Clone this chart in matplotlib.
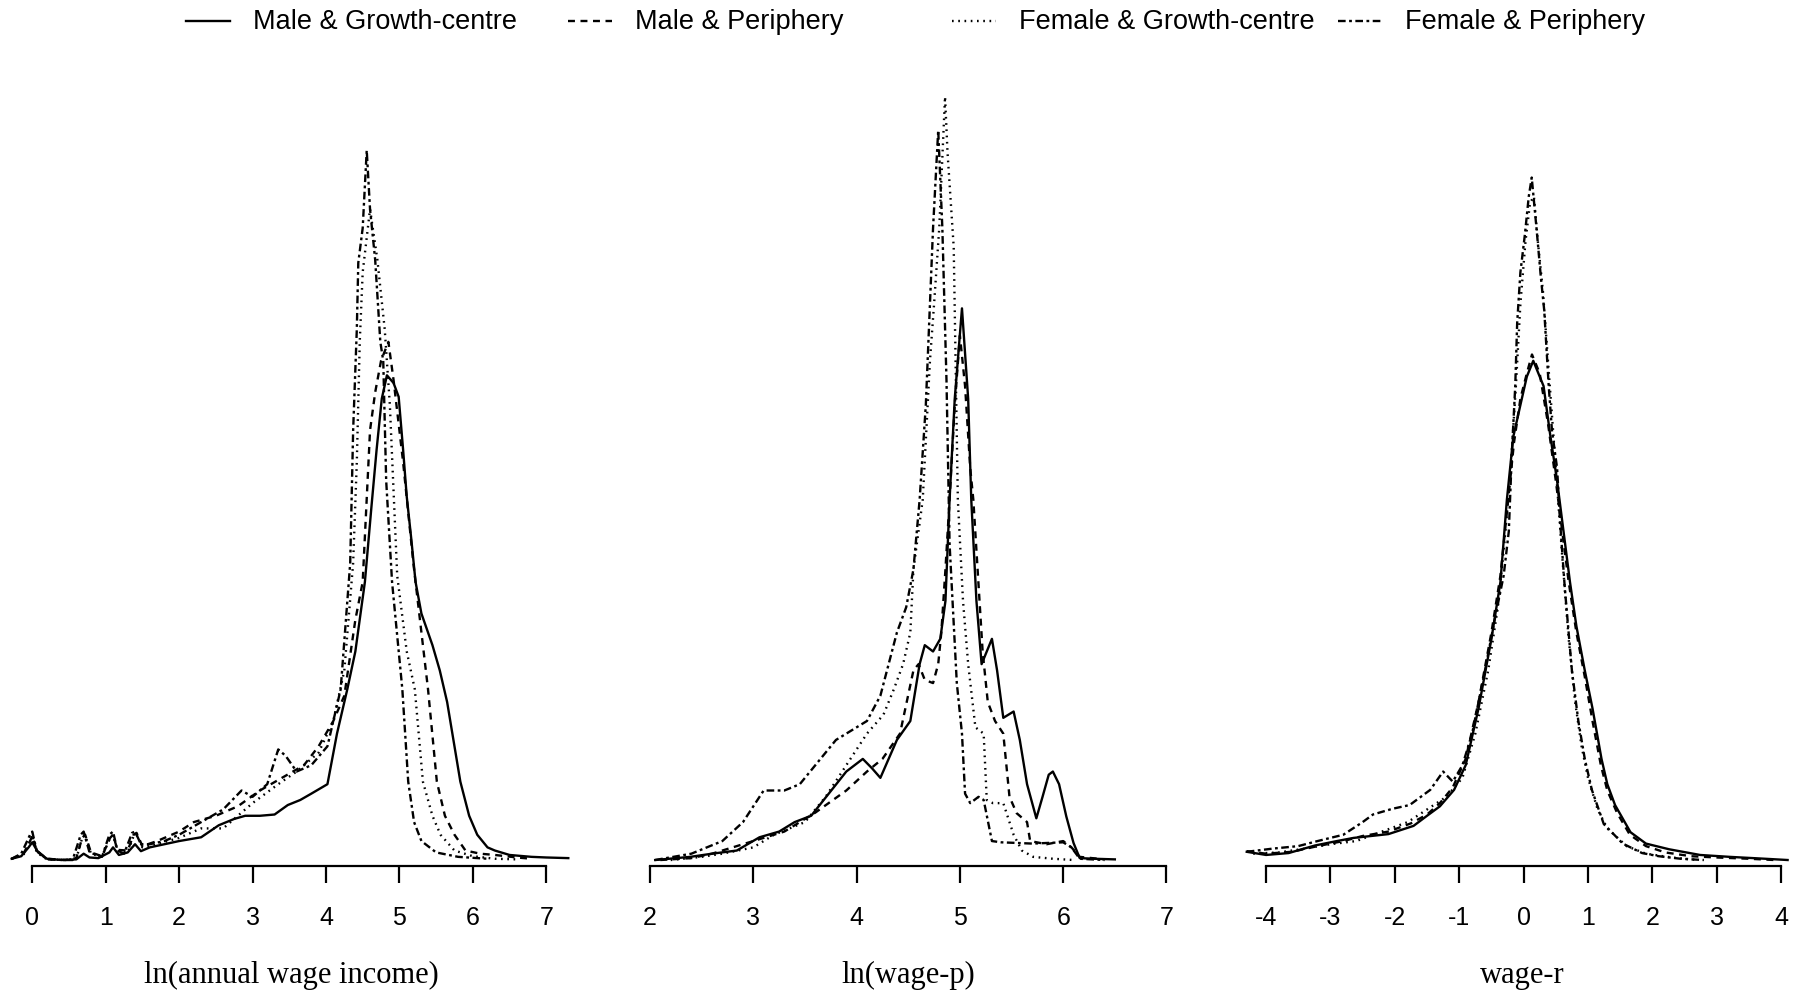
import matplotlib
matplotlib.use("Agg")
import matplotlib.pyplot as plt
from matplotlib.lines import Line2D

plt.rcParams['lines.scale_dashes'] = False

labels = ["Male & Growth-centre", "Male & Periphery", "Female & Growth-centre", "Female & Periphery"]
styles = ['-', (0, (5, 4)), (0, (1.2, 3.3)), (0, (5.5, 2.5, 2, 2.5))]

# ---- panel 1: ln(annual wage income)
inc_mgc_x = [-0.28, -0.15, -0.05, 0.0, 0.08, 0.2, 0.4, 0.6, 0.7, 0.78, 0.9, 1.05, 1.1, 1.18, 1.3, 1.4, 1.48, 1.6, 1.8, 2.0,
             2.3, 2.54, 2.75, 2.9, 3.1, 3.3, 3.48, 3.65, 3.8, 4.02, 4.15, 4.29, 4.4, 4.53, 4.62, 4.69, 4.76, 4.83, 4.92, 4.99,
             5.05, 5.1, 5.16, 5.22, 5.3, 5.45, 5.55, 5.65, 5.75, 5.83, 5.95, 6.06, 6.2, 6.3, 6.5, 6.8, 7.0, 7.3]
inc_mgc_y = [0.002, 0.006, 0.02, 0.028, 0.012, 0.002, 0.0, 0.001, 0.01, 0.004, 0.003, 0.012, 0.02, 0.008, 0.012, 0.025, 0.014, 0.02, 0.025, 0.03,
             0.036, 0.055, 0.065, 0.07, 0.07, 0.072, 0.087, 0.095, 0.105, 0.12, 0.2, 0.27, 0.33, 0.44, 0.56, 0.65, 0.73, 0.767, 0.755, 0.733,
             0.65, 0.575, 0.51, 0.44, 0.39, 0.34, 0.3, 0.25, 0.18, 0.124, 0.07, 0.04, 0.02, 0.015, 0.008, 0.005, 0.004, 0.003]
inc_mp_x = [-0.28, -0.12, -0.03, 0.0, 0.06, 0.2, 0.45, 0.6, 0.68, 0.72, 0.8, 0.95, 1.06, 1.1, 1.16, 1.3, 1.38, 1.42, 1.5, 1.7,
            2.0, 2.2, 2.5, 2.8, 3.1, 3.4, 3.7, 3.9, 4.1, 4.25, 4.4, 4.5, 4.6, 4.67, 4.75, 4.85, 4.92, 5.05, 5.19, 5.3,
            5.39, 5.51, 5.62, 5.75, 5.9, 6.1, 6.3, 6.6, 6.8]
inc_mp_y = [0.002, 0.01, 0.03, 0.038, 0.015, 0.002, 0.0, 0.003, 0.035, 0.04, 0.012, 0.006, 0.035, 0.04, 0.016, 0.015, 0.04, 0.043, 0.022, 0.03,
            0.045, 0.06, 0.07, 0.085, 0.11, 0.13, 0.15, 0.18, 0.22, 0.26, 0.38, 0.44, 0.68, 0.74, 0.79, 0.82, 0.76, 0.63, 0.47, 0.36,
            0.27, 0.124, 0.07, 0.04, 0.015, 0.01, 0.008, 0.004, 0.002]
inc_fgc_x = [-0.28, -0.12, -0.03, 0.0, 0.06, 0.2, 0.45, 0.6, 0.68, 0.72, 0.8, 0.95, 1.06, 1.1, 1.16, 1.3, 1.38, 1.42, 1.5, 1.7,
             2.0, 2.3, 2.6, 3.0, 3.35, 3.6, 3.9, 4.1, 4.25, 4.37, 4.42, 4.46, 4.5, 4.6, 4.7, 4.8, 4.87, 4.97, 5.1, 5.21,
             5.32, 5.45, 5.56, 5.75, 6.0, 6.3, 6.6]
inc_fgc_y = [0.002, 0.008, 0.03, 0.04, 0.012, 0.001, 0.0, 0.002, 0.035, 0.04, 0.01, 0.005, 0.035, 0.04, 0.014, 0.012, 0.038, 0.04, 0.02, 0.025,
             0.035, 0.05, 0.05, 0.09, 0.12, 0.14, 0.17, 0.22, 0.3, 0.47, 0.63, 0.82, 0.93, 1.03, 0.95, 0.84, 0.72, 0.45, 0.33, 0.27,
             0.124, 0.07, 0.04, 0.015, 0.006, 0.002, 0.001]
inc_fp_x = [-0.28, -0.15, -0.03, 0.0, 0.06, 0.2, 0.45, 0.55, 0.66, 0.7, 0.78, 0.95, 1.05, 1.1, 1.16, 1.25, 1.36, 1.4, 1.48, 1.6,
            1.8, 2.0, 2.3, 2.6, 2.85, 3.0, 3.2, 3.35, 3.45, 3.6, 3.8, 4.02, 4.2, 4.33, 4.37, 4.42, 4.44, 4.5, 4.555, 4.6,
            4.67, 4.74, 4.78, 4.82, 4.9, 5.04, 5.12, 5.2, 5.3, 5.5, 5.8, 6.2]
inc_fp_y = [0.002, 0.01, 0.04, 0.045, 0.015, 0.001, 0.0, 0.0, 0.04, 0.045, 0.012, 0.005, 0.04, 0.045, 0.015, 0.01, 0.043, 0.045, 0.025, 0.025,
            0.03, 0.04, 0.06, 0.08, 0.11, 0.1, 0.12, 0.175, 0.165, 0.14, 0.15, 0.18, 0.27, 0.47, 0.68, 0.84, 0.945, 1.0, 1.123, 1.03,
            0.95, 0.82, 0.79, 0.6, 0.44, 0.27, 0.124, 0.06, 0.03, 0.012, 0.005, 0.002]

# ---- panel 2: ln(wage-p)
wp_mgc_x = [2.05, 2.39, 2.6, 2.84, 3.06, 3.25, 3.4, 3.56, 3.73, 3.9, 4.06, 4.15, 4.23, 4.39, 4.52, 4.61, 4.66, 4.74, 4.81, 4.86,
            4.9, 4.95, 5.02, 5.08, 5.11, 5.16, 5.21, 5.26, 5.31, 5.36, 5.42, 5.47, 5.52, 5.58, 5.65, 5.74, 5.8, 5.86, 5.9, 5.96,
            6.03, 6.1, 6.16, 6.3, 6.5]
wp_mgc_y = [0.0, 0.005, 0.01, 0.015, 0.036, 0.045, 0.06, 0.07, 0.105, 0.14, 0.16, 0.145, 0.13, 0.19, 0.22, 0.31, 0.34, 0.33, 0.35, 0.41,
            0.57, 0.73, 0.873, 0.73, 0.57, 0.41, 0.31, 0.33, 0.35, 0.3, 0.225, 0.23, 0.235, 0.19, 0.12, 0.066, 0.1, 0.135, 0.14, 0.12,
            0.069, 0.027, 0.003, 0.002, 0.001]
wp_mp_x = [2.1, 2.4, 2.6, 2.8, 3.0, 3.3, 3.6, 3.9, 4.1, 4.25, 4.42, 4.55, 4.6, 4.66, 4.74, 4.79, 4.82, 4.86, 4.9, 4.95,
           5.0, 5.05, 5.1, 5.13, 5.19, 5.22, 5.27, 5.34, 5.42, 5.45, 5.48, 5.55, 5.65, 5.68, 5.84, 6.0, 6.08, 6.16, 6.4]
wp_mp_y = [0.0, 0.003, 0.01, 0.02, 0.03, 0.045, 0.075, 0.11, 0.14, 0.16, 0.2, 0.3, 0.31, 0.285, 0.28, 0.31, 0.36, 0.46, 0.57, 0.72,
           0.83, 0.75, 0.62, 0.57, 0.41, 0.33, 0.25, 0.22, 0.2, 0.15, 0.1, 0.074, 0.06, 0.03, 0.025, 0.03, 0.02, 0.005, 0.001]
wp_fgc_x = [2.2, 2.5, 2.7, 3.0, 3.2, 3.5, 3.7, 3.9, 4.1, 4.26, 4.36, 4.45, 4.52, 4.55, 4.64, 4.71, 4.75, 4.8, 4.856, 4.88,
            4.94, 4.98, 5.03, 5.08, 5.15, 5.23, 5.26, 5.32, 5.42, 5.52, 5.6, 5.71, 5.9, 6.1]
wp_fgc_y = [0.0, 0.005, 0.01, 0.02, 0.04, 0.06, 0.1, 0.15, 0.2, 0.23, 0.27, 0.31, 0.36, 0.46, 0.57, 0.79, 0.88, 1.0, 1.208, 1.12,
            0.97, 0.57, 0.41, 0.31, 0.21, 0.2, 0.095, 0.09, 0.09, 0.04, 0.015, 0.005, 0.002, 0.0]
wp_fp_x = [2.05, 2.4, 2.7, 2.9, 3.1, 3.3, 3.45, 3.6, 3.8, 4.0, 4.1, 4.23, 4.39, 4.48, 4.55, 4.61, 4.67, 4.74, 4.79, 4.83,
           4.87, 4.9, 4.97, 5.02, 5.05, 5.1, 5.18, 5.23, 5.31, 5.4, 5.7, 6.0, 6.08, 6.16, 6.4]
wp_fp_y = [0.0, 0.01, 0.03, 0.06, 0.11, 0.11, 0.12, 0.15, 0.19, 0.21, 0.22, 0.26, 0.36, 0.4, 0.46, 0.57, 0.72, 1.0, 1.155, 1.0,
           0.76, 0.5, 0.28, 0.2, 0.105, 0.09, 0.1, 0.095, 0.03, 0.028, 0.026, 0.028, 0.02, 0.002, 0.0]

# ---- panel 3: wage-r
wr_mgc_x = [-4.3, -4.0, -3.65, -3.24, -2.9, -2.64, -2.1, -1.71, -1.5, -1.3, -1.08, -0.9, -0.7, -0.5, -0.36, -0.26, -0.16, -0.05, 0.05, 0.15,
            0.31, 0.41, 0.52, 0.62, 0.72, 0.82, 0.95, 1.07, 1.21, 1.3, 1.42, 1.66, 1.9, 2.26, 2.74, 3.2, 3.75, 4.1]
wr_mgc_y = [0.013, 0.008, 0.011, 0.023, 0.03, 0.035, 0.041, 0.054, 0.07, 0.085, 0.111, 0.15, 0.24, 0.35, 0.44, 0.57, 0.67, 0.72, 0.765, 0.79,
            0.75, 0.675, 0.6, 0.52, 0.44, 0.37, 0.3, 0.24, 0.16, 0.12, 0.087, 0.044, 0.026, 0.017, 0.008, 0.005, 0.002, 0.0]
wr_mp_x = [-4.3, -4.0, -3.6, -3.2, -2.8, -2.5, -2.1, -1.75, -1.5, -1.3, -1.1, -0.9, -0.7, -0.5, -0.36, -0.25, -0.15, -0.05, 0.05, 0.13,
           0.25, 0.38, 0.5, 0.6, 0.7, 0.82, 0.95, 1.07, 1.2, 1.3, 1.45, 1.65, 1.9, 2.2, 2.6, 3.0, 3.5, 3.9]
wr_mp_y = [0.014, 0.01, 0.013, 0.022, 0.03, 0.038, 0.045, 0.058, 0.072, 0.09, 0.115, 0.16, 0.25, 0.36, 0.45, 0.56, 0.66, 0.73, 0.77, 0.8,
           0.77, 0.69, 0.6, 0.52, 0.44, 0.36, 0.29, 0.22, 0.15, 0.11, 0.075, 0.04, 0.022, 0.012, 0.006, 0.004, 0.002, 0.0]
wr_fgc_x = [-4.2, -3.8, -3.4, -3.0, -2.6, -2.2, -1.8, -1.5, -1.2, -0.95, -0.75, -0.55, -0.4, -0.3, -0.2, -0.12, -0.05, 0.03, 0.1, 0.16,
            0.22, 0.3, 0.4, 0.5, 0.6, 0.7, 0.8, 0.9, 1.0, 1.15, 1.3, 1.6, 1.9, 2.3, 2.7]
wr_fgc_y = [0.01, 0.012, 0.018, 0.025, 0.03, 0.045, 0.06, 0.08, 0.1, 0.13, 0.2, 0.3, 0.4, 0.5, 0.62, 0.75, 0.88, 0.98, 1.04, 1.05,
            0.98, 0.9, 0.76, 0.62, 0.48, 0.35, 0.25, 0.18, 0.13, 0.08, 0.05, 0.022, 0.01, 0.004, 0.0]
wr_fp_x = [-4.3, -3.9, -3.5, -3.2, -2.8, -2.5, -2.34, -2.04, -1.77, -1.45, -1.25, -1.1, -0.95, -0.8, -0.6, -0.45, -0.31, -0.23, -0.18, -0.13,
           -0.1, -0.05, 0.02, 0.08, 0.126, 0.2, 0.27, 0.32, 0.39, 0.44, 0.52, 0.57, 0.64, 0.75, 0.85, 0.95, 1.06, 1.245, 1.54, 1.84,
           2.1, 2.44, 2.8]
wr_fp_y = [0.013, 0.018, 0.022, 0.03, 0.04, 0.06, 0.072, 0.081, 0.087, 0.111, 0.14, 0.124, 0.15, 0.2, 0.3, 0.38, 0.45, 0.52, 0.65, 0.75,
           0.85, 0.93, 0.99, 1.05, 1.08, 1.0, 0.92, 0.87, 0.75, 0.68, 0.62, 0.53, 0.43, 0.3, 0.22, 0.16, 0.111, 0.057, 0.026, 0.011,
           0.006, 0.002, 0.0]

inc_ticks = [0, 1, 2, 3, 4, 5, 6, 7]
wp_ticks = [2, 3, 4, 5, 6, 7]
wr_ticks = [-4, -3, -2, -1, 0, 1, 2, 3, 4]

panels = [
    ([0.0016, 0.127, 0.3197, 0.8125], (-0.4, 7.45), inc_ticks, "ln(annual wage income)",
     [(inc_mgc_x, inc_mgc_y), (inc_mp_x, inc_mp_y), (inc_fgc_x, inc_fgc_y), (inc_fp_x, inc_fp_y)]),
    ([0.3548, 0.127, 0.2979, 0.8125], (1.9, 7.1), wp_ticks, "ln(wage-p)",
     [(wp_mgc_x, wp_mgc_y), (wp_mp_x, wp_mp_y), (wp_fgc_x, wp_fgc_y), (wp_fp_x, wp_fp_y)]),
    ([0.6897, 0.127, 0.3089, 0.8125], (-4.35, 4.3), wr_ticks, "wage-r",
     [(wr_mgc_x, wr_mgc_y), (wr_mp_x, wr_mp_y), (wr_fgc_x, wr_fgc_y), (wr_fp_x, wr_fp_y)]),
]

fig = plt.figure(figsize=(18.03, 9.92), dpi=100)

for rect, xlim, ticks, xlabel, curves in panels:
    ax = fig.add_axes(rect)
    for (xs, ys), ls in zip(curves, styles):
        ax.plot(xs, ys, color='black', lw=1.7, linestyle=ls)
    ax.set_xlim(*xlim)
    ax.set_ylim(-0.0095, 1.266)
    for s in ['top', 'right', 'left']:
        ax.spines[s].set_visible(False)
    ax.spines['bottom'].set_bounds(ticks[0], ticks[-1])
    ax.spines['bottom'].set_linewidth(1.6)
    ax.set_yticks([])
    ax.set_xticks(ticks)
    ax.set_xticklabels([str(t) for t in ticks], family='Liberation Sans', fontsize=18)
    ax.tick_params(axis='x', direction='out', length=12, width=1.6, pad=17)
    ax.set_xlabel(xlabel, family='Liberation Serif', fontsize=22, labelpad=22)
    ax.patch.set_visible(False)

# legend row across the top
leg_x = [0.1032, 0.315, 0.528, 0.742]
for x0, lab, ls in zip(leg_x, labels, styles):
    fig.add_artist(Line2D([x0, x0 + 0.0244], [0.979, 0.979], transform=fig.transFigure,
                          color='black', lw=1.7, linestyle=ls))
    fig.text(x0 + 0.0372, 0.978, lab, family='Liberation Sans', fontsize=19.5, va='center', ha='left')

fig.savefig("out.png", dpi=100)
